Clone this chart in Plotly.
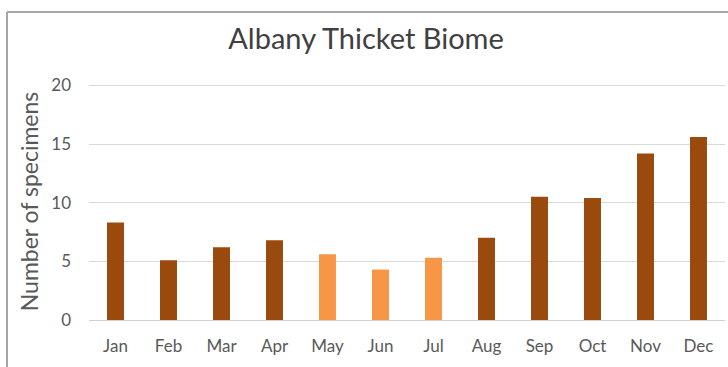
import plotly.graph_objects as go

months = ["Jan", "Feb", "Mar", "Apr", "May", "Jun", "Jul", "Aug", "Sep", "Oct", "Nov", "Dec"]
specimens = [8.3, 5.1, 6.2, 6.8, 5.6, 4.3, 5.3, 7.0, 10.5, 10.4, 14.2, 15.6]
dark = "#9A4A0C"
light = "#F79646"
bar_colors = [dark, dark, dark, dark, light, light, light, dark, dark, dark, dark, dark]
y_ticks = [0, 5, 10, 15, 20]

W, H = 728, 367
ml, mr, mt, mb = 89, 3, 83, 47
pw, ph = W - ml - mr, H - mt - mb

def px_x(p):
    return (p - ml) / pw

def px_y(p):
    return (H - mb - p) / ph

fig = go.Figure(go.Bar(
    x=months, y=specimens,
    marker=dict(color=bar_colors, line=dict(width=0)),
    width=0.32,
))

fig.update_layout(
    width=W, height=H,
    margin=dict(l=ml, r=mr, t=mt, b=mb),
    paper_bgcolor="white", plot_bgcolor="white",
    font=dict(family="Lato, Open Sans, sans-serif", color="#595959"),
    title=dict(text="Albany Thicket Biome", x=366 / W, xanchor="center",
               y=1 - 39 / H, yanchor="middle",
               font=dict(size=29, color="#404040")),
    showlegend=False,
    xaxis=dict(showgrid=False, showline=False, ticks="", tickfont=dict(size=17),
               ticklabelstandoff=14),
    yaxis=dict(range=[0, 20.2], tickvals=y_ticks, showgrid=True, gridcolor="#D9D9D9",
               gridwidth=1, zeroline=True, zerolinecolor="#D0D0D0", zerolinewidth=1,
               ticks="", tickfont=dict(size=17), ticklabelstandoff=17,
               title=dict(text="Number of specimens", font=dict(size=23, color="#595959"),
                          standoff=6)),
    shapes=[
        dict(type="line", xref="paper", yref="paper",
             x0=px_x(7), x1=px_x(728), y0=px_y(12), y1=px_y(12),
             line=dict(color="#A6A6A6", width=2)),
        dict(type="line", xref="paper", yref="paper",
             x0=px_x(7), x1=px_x(7), y0=px_y(12), y1=px_y(367),
             line=dict(color="#A6A6A6", width=2)),
    ],
)

fig.write_html("out.html")
